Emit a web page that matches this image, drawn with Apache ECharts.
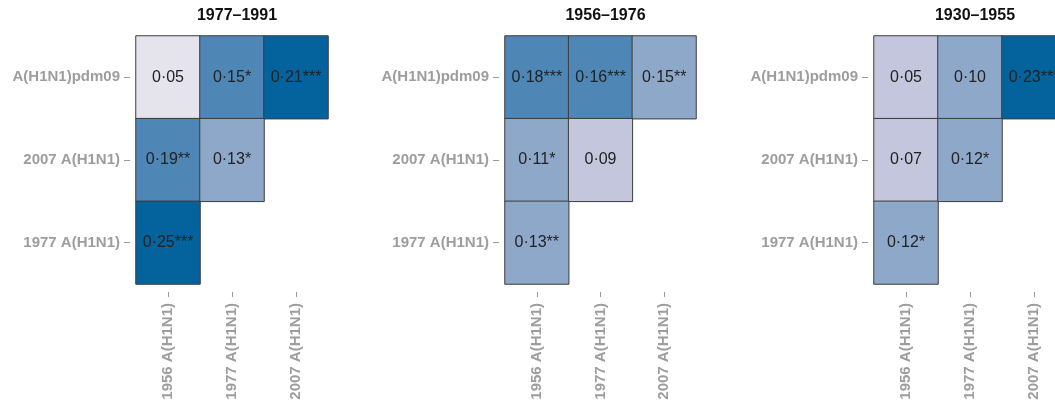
<!DOCTYPE html>
<html><head><meta charset="utf-8">
<script src="https://cdn.jsdelivr.net/npm/echarts@6/dist/echarts.min.js"></script>
<style>html,body{margin:0;padding:0;background:#fff}#c{width:1055px;height:403px}</style>
</head><body><div id="c"></div>
<script>
const xCats = ['1956 A(H1N1)', '1977 A(H1N1)', '2007 A(H1N1)'];
const yCats = ['1977 A(H1N1)', '2007 A(H1N1)', 'A(H1N1)pdm09'];
const panelTitles = ['1977–1991', '1956–1976', '1930–1955'];
// cell category indices (x column, y row)
const cellX = [0, 1, 2, 0, 1, 0];
const cellY = [2, 2, 2, 1, 1, 0];
const vals1977 = [0.05, 0.15, 0.21, 0.19, 0.13, 0.25];
const stars1977 = ['', '*', '***', '**', '*', '***'];
const level1977 = [0, 3, 4, 3, 2, 4];
const vals1956 = [0.18, 0.16, 0.15, 0.11, 0.09, 0.13];
const stars1956 = ['***', '***', '**', '*', '', '**'];
const level1956 = [3, 3, 2, 2, 1, 2];
const vals1930 = [0.05, 0.10, 0.23, 0.07, 0.12, 0.12];
const stars1930 = ['', '', '***', '', '*', '*'];
const level1930 = [1, 2, 4, 1, 2, 2];
const palette = ['#e5e3eb', '#c3c6dc', '#8da8c9', '#4e86b6', '#04639c'];

const panelVals = [vals1977, vals1956, vals1930];
const panelStars = [stars1977, stars1956, stars1930];
const panelLevels = [level1977, level1956, level1930];

const grids = [
  {left: 136, top: 36, width: 192, height: 248, outerBoundsMode: 'none', containLabel: false},
  {left: 505, top: 36, width: 191, height: 248, outerBoundsMode: 'none', containLabel: false},
  {left: 874, top: 36, width: 192, height: 248, outerBoundsMode: 'none', containLabel: false}
];
const gridCenters = [232, 600.5, 970];
const labelColor = '#9d9d9d';
const font = 'Liberation Sans, Arial, sans-serif';

const option = {
  backgroundColor: '#fff',
  animation: false,
  title: panelTitles.map((t, i) => ({
    text: t,
    left: gridCenters[i],
    top: 3,
    textAlign: 'center',
    textStyle: {fontFamily: font, fontSize: 16, fontWeight: 'bold', color: '#111'}
  })),
  grid: grids,
  xAxis: grids.map((g, i) => ({
    type: 'category', gridIndex: i, data: xCats, position: 'bottom', offset: 8,
    axisLine: {show: false},
    axisTick: {show: true, alignWithLabel: true, length: 5, lineStyle: {color: '#999'}},
    axisLabel: {rotate: 90, margin: 11, fontFamily: font, fontSize: 15, fontWeight: 'bold', color: labelColor},
    splitLine: {show: false}
  })),
  yAxis: grids.map((g, i) => ({
    type: 'category', gridIndex: i, data: yCats, offset: 6,
    axisLine: {show: false},
    axisTick: {show: true, alignWithLabel: true, length: 6, lineStyle: {color: '#999'}},
    axisLabel: {margin: 10, fontFamily: font, fontSize: 15, fontWeight: 'bold', color: labelColor},
    splitLine: {show: false}
  })),
  visualMap: {
    type: 'piecewise', show: false, dimension: 3, seriesIndex: [0, 1, 2],
    pieces: palette.map((c, k) => ({value: k, color: c}))
  },
  series: panelVals.map((vals, i) => ({
    type: 'heatmap', xAxisIndex: i, yAxisIndex: i,
    data: vals.map((v, k) => [cellX[k], cellY[k], v, panelLevels[i][k]]),
    itemStyle: {borderColor: '#3c3c3c', borderWidth: 1},
    label: {
      show: true, fontFamily: font, fontSize: 16, color: '#222',
      formatter: p => p.value[2].toFixed(2).replace('.', '·') + panelStars[i][p.dataIndex]
    },
    emphasis: {disabled: true}
  }))
};
echarts.init(document.getElementById('c'), null, {renderer: 'canvas'}).setOption(option);
</script></body></html>
